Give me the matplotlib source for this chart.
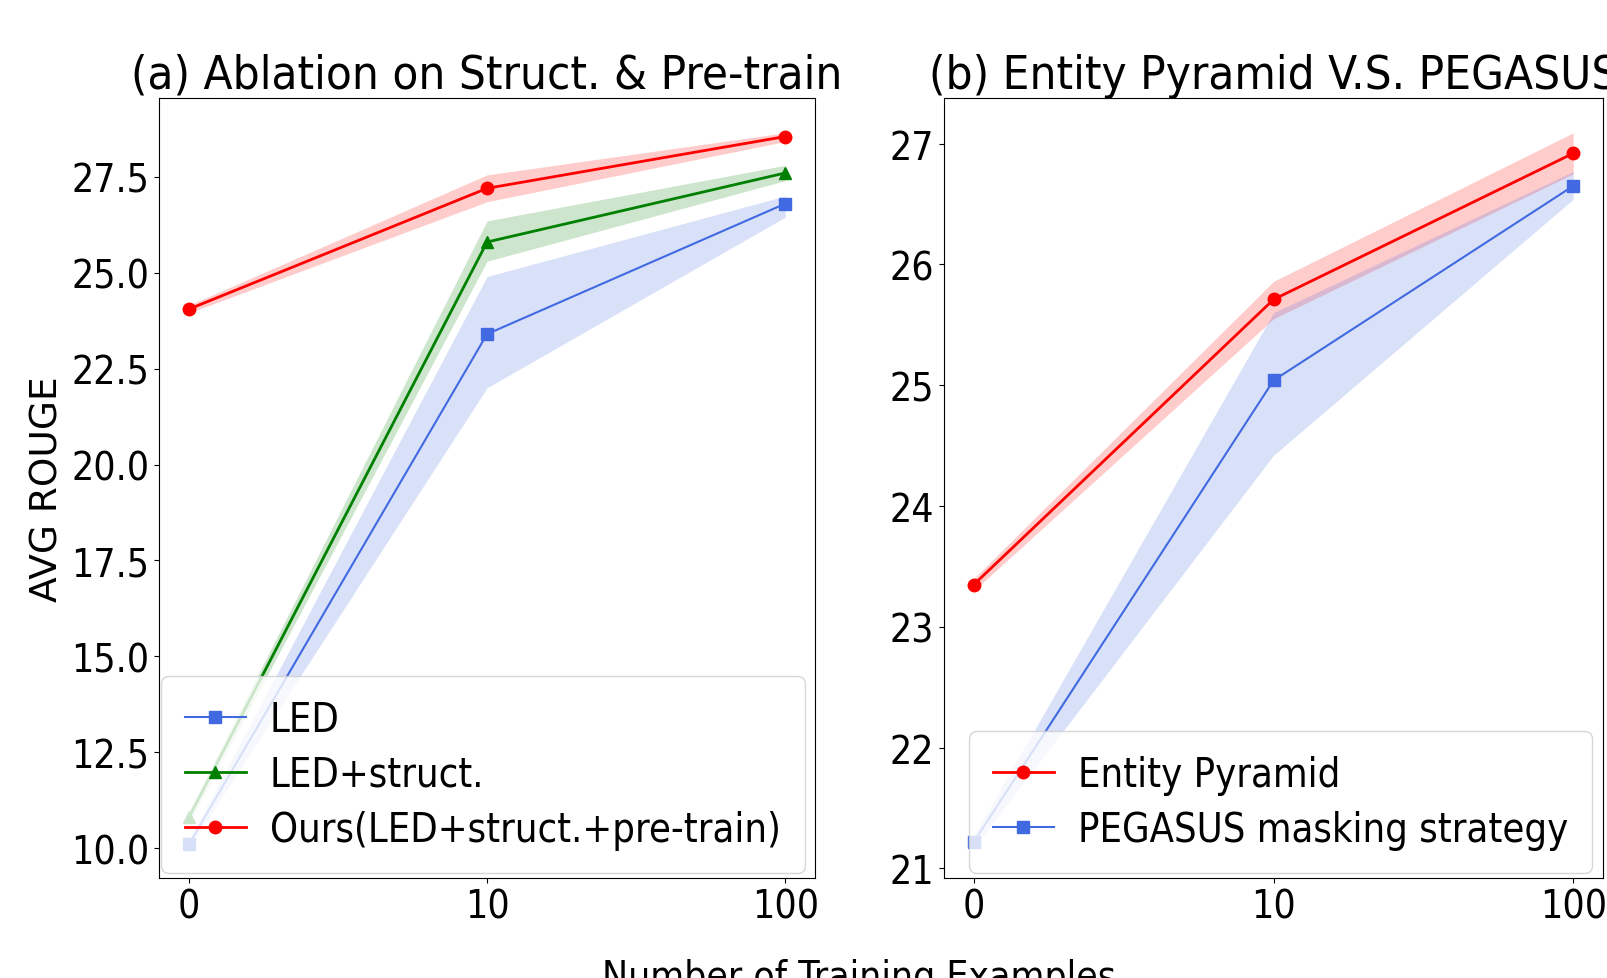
import numpy as np
from matplotlib import pyplot as plt

plt.rcParams['font.family'] = 'DejaVu Sans'
plt.rcParams['font.stretch'] = 'condensed'

# x positions are categorical: number of training examples
x_labels = ['0', '10', '100']

# (a) ablation
led = [10.1, 23.4, 26.8]
led_lo = [10.0, 22.0, 26.45]
led_hi = [10.2, 24.9, 27.0]

led_struct = [10.8, 25.8, 27.6]
led_struct_lo = [10.65, 25.3, 27.4]
led_struct_hi = [10.95, 26.35, 27.8]

ours = [24.05, 27.2, 28.55]
ours_lo = [23.95, 26.85, 28.42]
ours_hi = [24.15, 27.55, 28.65]

# (b) entity pyramid vs pegasus
entity = [23.35, 25.71, 26.92]
entity_lo = [23.3, 25.55, 26.75]
entity_hi = [23.4, 25.86, 27.09]

pegasus = [21.22, 25.04, 26.65]
pegasus_lo = [21.17, 24.42, 26.54]
pegasus_hi = [21.27, 25.6, 26.77]

xs = np.arange(len(x_labels))

fig = plt.figure(figsize=(16.08, 9.79), dpi=100)
ax1 = fig.add_axes([0.0989, 0.1021, 0.408, 0.797])
ax2 = fig.add_axes([0.587, 0.1021, 0.41, 0.797])

leg_kw = dict(loc='lower left', borderaxespad=0, fontsize=28.5, borderpad=0.6,
              handlelength=1.55, handletextpad=0.6, labelspacing=0.38)

# left panel
ax1.fill_between(xs, led_lo, led_hi, color='royalblue', alpha=0.2, lw=0)
ax1.plot(xs, led, color='royalblue', marker='s', ms=9, lw=1.5, label='LED')
ax1.fill_between(xs, led_struct_lo, led_struct_hi, color='green', alpha=0.2, lw=0)
ax1.plot(xs, led_struct, color='green', marker='^', ms=9, lw=2, label='LED+struct.')
ax1.fill_between(xs, ours_lo, ours_hi, color='red', alpha=0.2, lw=0)
ax1.plot(xs, ours, color='red', marker='o', ms=9, lw=2, label='Ours(LED+struct.+pre-train)')

ax1.set_xlim(-0.1, 2.1)
ax1.set_ylim(9.22, 29.56)
ax1.set_yticks(np.arange(10, 28.5, 2.5))
ax1.set_yticklabels(['%.1f' % v for v in np.arange(10, 28.5, 2.5)])
ax1.set_xticks(xs)
ax1.set_xticklabels(x_labels)
ax1.tick_params(labelsize=28)
ax1.set_title('(a) Ablation on Struct. & Pre-train', fontsize=34)
ax1.set_ylabel('AVG ROUGE', fontsize=27, fontstretch='normal')
ax1.legend(bbox_to_anchor=(0.003, 0.006), **leg_kw)

# right panel
ax2.fill_between(xs, entity_lo, entity_hi, color='red', alpha=0.2, lw=0)
ax2.plot(xs, entity, color='red', marker='o', ms=9, lw=2, label='Entity Pyramid')
ax2.fill_between(xs, pegasus_lo, pegasus_hi, color='royalblue', alpha=0.2, lw=0)
ax2.plot(xs, pegasus, color='royalblue', marker='s', ms=9, lw=1.5,
         label='PEGASUS masking strategy')

ax2.set_xlim(-0.1, 2.1)
ax2.set_ylim(20.92, 27.38)
ax2.set_yticks(range(21, 28))
ax2.set_xticks(xs)
ax2.set_xticklabels(x_labels)
ax2.tick_params(labelsize=28)
ax2.set_title('(b) Entity Pyramid V.S. PEGASUS', fontsize=34)
ax2.legend(bbox_to_anchor=(0.038, 0.006), **leg_kw)

fig.text(0.534, 0.0204, 'Number of Training Examples', fontsize=28,
         ha='center', va='top')

plt.savefig('out.png', dpi=100)
